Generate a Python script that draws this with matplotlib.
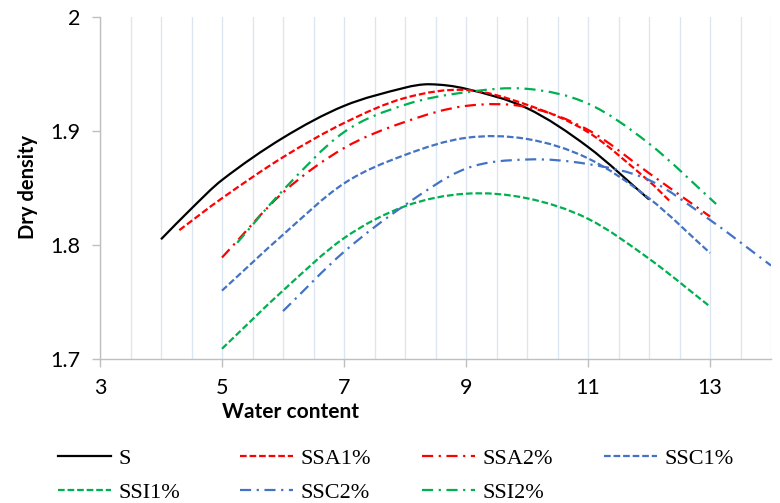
import numpy as np
import matplotlib
matplotlib.use("Agg")
import matplotlib.pyplot as plt
from matplotlib.path import Path
from matplotlib.patches import PathPatch
from matplotlib.lines import Line2D
from matplotlib.ticker import MultipleLocator, FixedLocator

# ---------------- data ----------------
s_x = [4, 4.5, 5, 6, 7, 8, 8.4, 9, 10, 11, 12]
s_y = [1.805, 1.832, 1.857, 1.894, 1.922, 1.938, 1.941, 1.937, 1.920, 1.886, 1.840]

ssa1_x = [4.3, 5, 6, 7, 8, 9, 10, 11, 12, 12.35]
ssa1_y = [1.813, 1.841, 1.877, 1.907, 1.929, 1.936, 1.923, 1.899, 1.856, 1.838]

ssa2_x = [5, 6, 7, 8, 9, 10, 11, 12, 13]
ssa2_y = [1.789, 1.846, 1.885, 1.908, 1.922, 1.921, 1.901, 1.863, 1.825]

ssc1_x = [5, 6, 7, 8, 9, 10, 11, 12, 13]
ssc1_y = [1.760, 1.809, 1.854, 1.879, 1.894, 1.893, 1.876, 1.841, 1.793]

ssi1_x = [5, 6, 7, 8, 9, 10, 11, 12, 13]
ssi1_y = [1.709, 1.760, 1.806, 1.834, 1.845, 1.841, 1.823, 1.788, 1.746]

ssc2_x = [6, 7, 8, 9, 10, 11, 12, 13, 14]
ssc2_y = [1.742, 1.794, 1.835, 1.867, 1.875, 1.871, 1.857, 1.822, 1.782]

ssi2_x = [5.25, 6, 7, 8, 9, 10, 11, 12, 13.1]
ssi2_y = [1.802, 1.848, 1.899, 1.923, 1.934, 1.937, 1.924, 1.889, 1.836]

labels = ["S", "SSA1%", "SSA2%", "SSC1%", "SSI1%", "SSC2%", "SSI2%"]
x_ticks = [3, 5, 7, 9, 11, 13]
y_ticks = [1.7, 1.8, 1.9, 2.0]
y_tick_labels = ["1.7", "1.8", "1.9", "2"]

# ---------------- styles ----------------
BLACK, RED, BLUE, GREEN = "#000000", "#FF0000", "#4472C4", "#00B050"
DASH = (0, (3, 1.3))
DASHDOT = (0, (5, 2.5, 1, 2.5))
series = [
    (s_x, s_y, BLACK, "-"),
    (ssa1_x, ssa1_y, RED, DASH),
    (ssa2_x, ssa2_y, RED, DASHDOT),
    (ssc1_x, ssc1_y, BLUE, DASH),
    (ssi1_x, ssi1_y, GREEN, DASH),
    (ssc2_x, ssc2_y, BLUE, DASHDOT),
    (ssi2_x, ssi2_y, GREEN, DASHDOT),
]


def smooth_path(x, y):
    """Excel-like smoothed line: cubic Bezier segments through the points."""
    pts = np.column_stack([x, y]).astype(float)
    n = len(pts)
    verts = [pts[0]]
    codes = [Path.MOVETO]
    for i in range(n - 1):
        p0 = pts[max(i - 1, 0)]
        p1 = pts[i]
        p2 = pts[i + 1]
        p3 = pts[min(i + 2, n - 1)]
        h = p2[0] - p1[0]
        # tangents scaled to the local spacing (handles uneven x steps)
        t1 = (p2 - p0) / max(p2[0] - p0[0], 1e-9) * h
        t2 = (p3 - p1) / max(p3[0] - p1[0], 1e-9) * h
        c1 = p1 + t1 / 3.0
        c2 = p2 - t2 / 3.0
        verts += [c1, c2, p2]
        codes += [Path.CURVE4] * 3
    return Path(verts, codes)


fig = plt.figure(figsize=(7.8, 5.03), dpi=100)
ax = fig.add_axes([100 / 780, 1 - 359 / 503, 671 / 780, 342 / 503])

LW = 1.6
handles = []
for (x, y, c, ls), lab in zip(series, labels):
    patch = PathPatch(smooth_path(x, y), fill=False, edgecolor=c, lw=LW,
                      linestyle=ls, capstyle="butt", joinstyle="round")
    ax.add_patch(patch)
    handles.append(Line2D([], [], color=c, lw=LW, linestyle=ls, dash_capstyle="butt"))

ax.set_xlim(3, 14)
ax.set_ylim(1.7, 2.0)

ax.xaxis.set_major_locator(FixedLocator(x_ticks))
ax.xaxis.set_minor_locator(MultipleLocator(0.5))
ax.yaxis.set_major_locator(FixedLocator(y_ticks))
ax.set_yticklabels(y_tick_labels)

ax.grid(True, axis="x", which="both", color="#DCE6F2", lw=1.0, zorder=0)
ax.set_axisbelow(True)

for side in ["top", "right"]:
    ax.spines[side].set_visible(False)
for side in ["left", "bottom"]:
    ax.spines[side].set_color("#BFBFBF")
    ax.spines[side].set_linewidth(1.0)

tick_font = "Lato"
ax.tick_params(axis="both", which="major", direction="out", color="#BFBFBF",
               length=6, width=1.0, labelsize=15.5, labelcolor="black", pad=8)
ax.tick_params(axis="x", which="minor", length=0)
for lab in ax.get_xticklabels() + ax.get_yticklabels():
    lab.set_fontfamily(tick_font)

fig.text(290 / 780, 1 - 412 / 503, "Water content", ha="center", va="center",
         fontsize=15, fontweight="bold", family="Lato")
fig.text(28 / 780, 1 - 187 / 503, "Dry density", ha="center", va="center",
         rotation=90, fontsize=14.5, fontweight="bold", family="Lato")

# legend: 4 columns laid out row-wise
legend_font = {"family": "Liberation Serif", "size": 16}
col_x = [58, 240, 422, 604]
cols = [[0, 4], [1, 5], [2, 6], [3]]
for cx, idxs in zip(col_x, cols):
    leg = fig.legend([handles[i] for i in idxs], [labels[i] for i in idxs],
                     loc="upper left", bbox_to_anchor=(cx / 780, 1 - 448 / 503),
                     frameon=False, prop=legend_font, handlelength=2.4,
                     handletextpad=0.3, labelspacing=0.62, borderaxespad=0,
                     borderpad=0)

fig.savefig("out.png", dpi=100)
